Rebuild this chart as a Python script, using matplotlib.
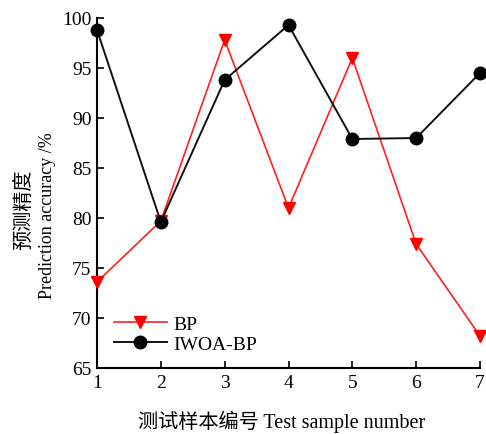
import matplotlib.pyplot as plt
import numpy as np

plt.rcParams['font.family'] = ['Liberation Serif', 'Noto Sans CJK SC']

samples = [1, 2, 3, 4, 5, 6, 7]
bp = [73.6, 79.7, 97.8, 81.0, 96.0, 77.4, 68.2]
iwoa_bp = [98.8, 79.6, 93.8, 99.3, 87.9, 88.0, 94.5]

fig = plt.figure(figsize=(4.86, 4.35), dpi=100)
ax = fig.add_axes([97 / 486, 1 - 369 / 435, (480 - 97) / 486, (369 - 19) / 435])

ax.plot(samples, bp, color='#ff2020', lw=1.2, marker='v', ms=9,
        markerfacecolor='red', markeredgecolor='red', label='BP', clip_on=False, zorder=3)
ax.plot(samples, iwoa_bp, color='#111111', lw=1.4, marker='o', ms=9,
        markerfacecolor='black', markeredgecolor='black', label='IWOA-BP', clip_on=False, zorder=4)

ax.set_xlim(1, 7)
ax.set_ylim(65, 100)
ax.set_xticks(samples)
ax.set_yticks(np.arange(65, 101, 5))
ax.spines['top'].set_visible(False)
ax.spines['right'].set_visible(False)
ax.spines['left'].set_linewidth(1.5)
ax.spines['bottom'].set_linewidth(1.5)
ax.tick_params(direction='in', length=5, width=1.2, labelsize=14, pad=4)

leg = ax.legend(loc='upper left', bbox_to_anchor=(17 / 383, 53 / 350), frameon=False, fontsize=14,
                handlelength=2.7, handletextpad=0.35, labelspacing=0.15, borderaxespad=0.0,
                borderpad=0.0)

fig.text(282 / 486, 1 - 422 / 435, '测试样本编号 Test sample number', ha='center', va='center', fontsize=14.5)
fig.text(25 / 486, 1 - 210 / 435, '预测精度', ha='center', va='center', rotation=90, fontsize=14.5)
fig.text(47 / 486, 1 - 216 / 435, 'Prediction accuracy /%', ha='center', va='center', rotation=90, fontsize=13)

fig.savefig('out.png', dpi=100)
